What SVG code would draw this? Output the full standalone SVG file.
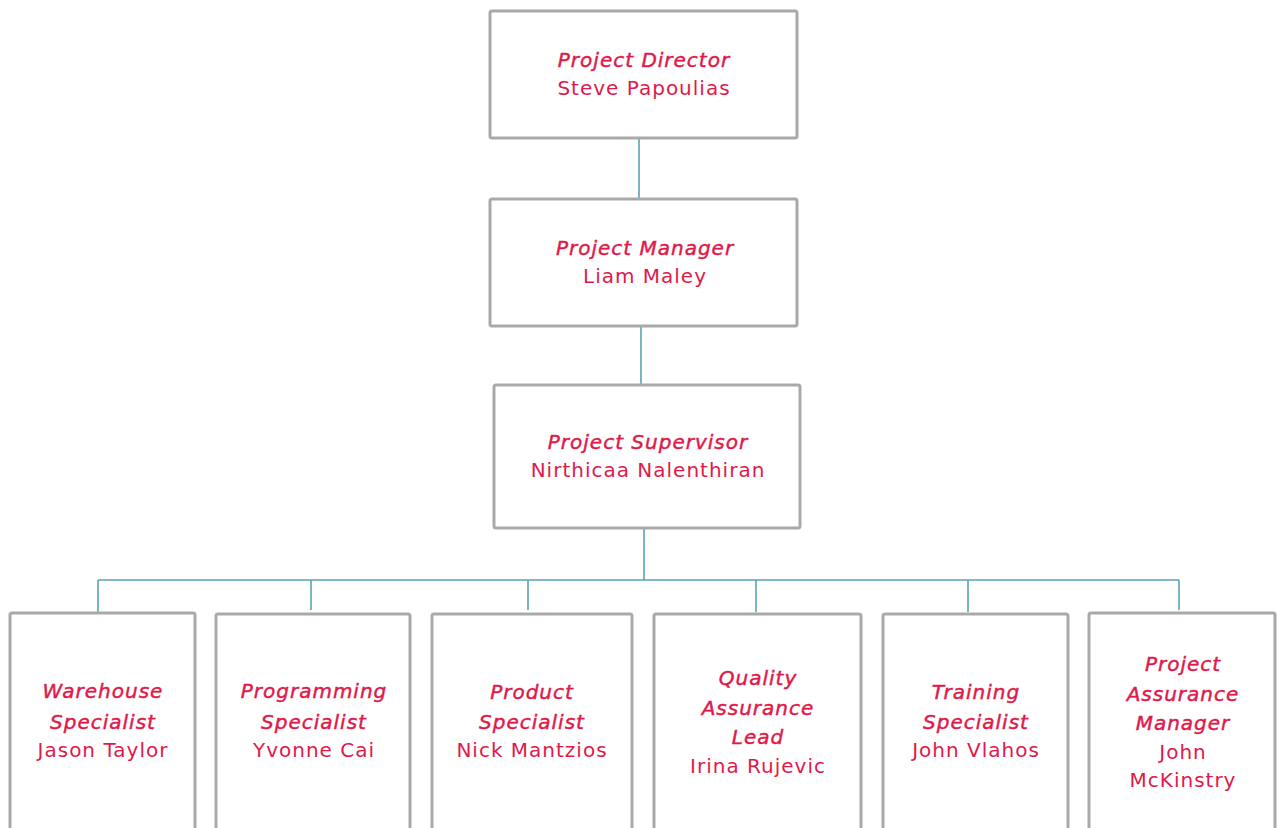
<svg xmlns="http://www.w3.org/2000/svg" width="1277" height="828" viewBox="0 0 1277 828">
<style>
.box{fill:#ffffff;stroke:#a9a9a9;stroke-width:3}
.t{font-family:"DejaVu Sans","Liberation Sans",sans-serif;font-size:20px;letter-spacing:1px;fill:#e0194a;text-anchor:middle}
.r{font-style:italic;font-weight:400;stroke:#e0194a;stroke-width:0.45}
.n{font-weight:400}
.c{fill:none;stroke:#5ba4ad;stroke-width:1.6}
</style>
<rect width="1277" height="828" fill="#ffffff"/>
<g id="connectors">
<path class="c" d="M639 138V198M641 326V384M644 528V580M98 580H1179M98 580V612M311 580V610M528 580V610M756 580V612M968 580V612M1179 580V610"/>
</g>
<g id="n1"><rect class="box" x="490" y="11" width="307" height="127" rx="2"/>
<text class="t r" x="644" y="67">Project Director</text><text class="t n" x="644" y="95">Steve Papoulias</text></g>
<g id="n2"><rect class="box" x="490" y="199" width="307" height="127" rx="2"/>
<text class="t r" x="645" y="255">Project Manager</text><text class="t n" x="645" y="283">Liam Maley</text></g>
<g id="n3"><rect class="box" x="494" y="385" width="306" height="143" rx="2"/>
<text class="t r" x="648" y="449">Project Supervisor</text><text class="t n" x="648" y="477">Nirthicaa Nalenthiran</text></g>
<g id="n4"><rect class="box" x="10" y="613" width="185" height="230" rx="2"/>
<text class="t r" x="103" y="698">Warehouse</text><text class="t r" x="103" y="729">Specialist</text><text class="t n" x="103" y="757">Jason Taylor</text></g>
<g id="n5"><rect class="box" x="216" y="614" width="194" height="230" rx="2"/>
<text class="t r" x="314" y="698">Programming</text><text class="t r" x="314" y="729">Specialist</text><text class="t n" x="314" y="757">Yvonne Cai</text></g>
<g id="n6"><rect class="box" x="432" y="614" width="200" height="230" rx="2"/>
<text class="t r" x="532" y="699">Product</text><text class="t r" x="532" y="729">Specialist</text><text class="t n" x="532" y="757">Nick Mantzios</text></g>
<g id="n7"><rect class="box" x="654" y="614" width="207" height="230" rx="2"/>
<text class="t r" x="758" y="685">Quality</text><text class="t r" x="758" y="715">Assurance</text><text class="t r" x="758" y="744">Lead</text><text class="t n" x="758" y="773">Irina Rujevic</text></g>
<g id="n8"><rect class="box" x="883" y="614" width="185" height="230" rx="2"/>
<text class="t r" x="976" y="699">Training</text><text class="t r" x="976" y="729">Specialist</text><text class="t n" x="976" y="757">John Vlahos</text></g>
<g id="n9"><rect class="box" x="1089" y="613" width="186" height="230" rx="2"/>
<text class="t r" x="1183" y="671">Project</text><text class="t r" x="1183" y="701">Assurance</text><text class="t r" x="1183" y="730">Manager</text><text class="t n" x="1183" y="759">John</text><text class="t n" x="1183" y="787">McKinstry</text></g>
</svg>
